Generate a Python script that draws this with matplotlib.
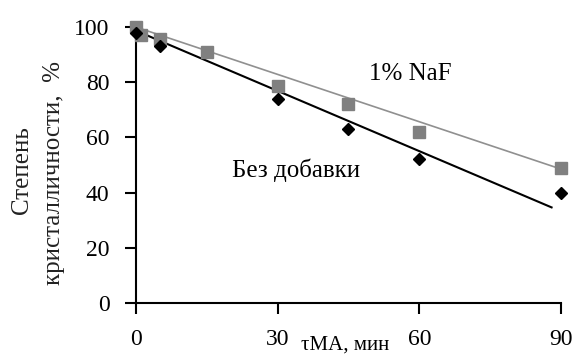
import numpy as np
import matplotlib
matplotlib.use("Agg")
import matplotlib.pyplot as plt

plt.rcParams['font.family'] = ['Liberation Serif', 'DejaVu Serif']

# 1% NaF (серые квадраты)
t_naf = [0, 1, 5, 15, 30, 45, 60, 90]
s_naf = [100, 97, 95.5, 91, 78.5, 72, 62, 49]
# без добавки (чёрные ромбы)
t_base = [0, 5, 30, 45, 60, 90]
s_base = [98, 93, 74, 63, 52, 40]

# линии тренда: наклон, свободный член, диапазон по x
fit_naf = [-0.572, 100.0]
fit_naf_x = [0, 90]
fit_base = [-0.728, 98.7]
fit_base_x = [0, 88]

xticks = [0, 30, 60, 90]
yticks = [0, 20, 40, 60, 80, 100]

fig = plt.figure(figsize=(5.76, 3.56), dpi=100)
ax = fig.add_axes([0.236, 0.149, 0.738, 0.775])

xn = np.array(fit_naf_x)
ax.plot(xn, np.polyval(fit_naf, xn), color='#909090', lw=1.2, zorder=2)
xb = np.array(fit_base_x)
ax.plot(xb, np.polyval(fit_base, xb), color='black', lw=1.5, zorder=2)

ax.plot(t_naf, s_naf, ls='none', marker='s', ms=9, color='#808080',
        mec='#808080', clip_on=False, zorder=3)
ax.plot(t_base, s_base, ls='none', marker='D', ms=6.5, color='black',
        clip_on=False, zorder=4)

ax.set_xlim(0, 90)
ax.set_ylim(0, 100)
ax.set_xticks(xticks)
ax.set_yticks(yticks)
for side in ['top', 'right']:
    ax.spines[side].set_visible(False)
for side in ['left', 'bottom']:
    ax.spines[side].set_linewidth(1.5)
ax.tick_params(direction='out', length=8, width=1.5, pad=11, labelsize=17)

ax.text(58, 83, '1% NaF', fontsize=18, ha='center', va='center')
ax.text(34, 48, 'Без добавки', fontsize=18, ha='center', va='center')

fig.text(22 / 576, 1 - 170 / 356, 'Степень', rotation=90, fontsize=18,
         ha='center', va='center', color='#222222')
fig.text(54 / 576, 1 - 173 / 356, 'кристалличности,  %', rotation=90,
         fontsize=18, ha='center', va='center', color='#222222')
fig.text(345 / 576, 1 / 356, 'τМА, мин', fontsize=15,
         ha='center', va='bottom')

fig.savefig('out.png', dpi=100)
